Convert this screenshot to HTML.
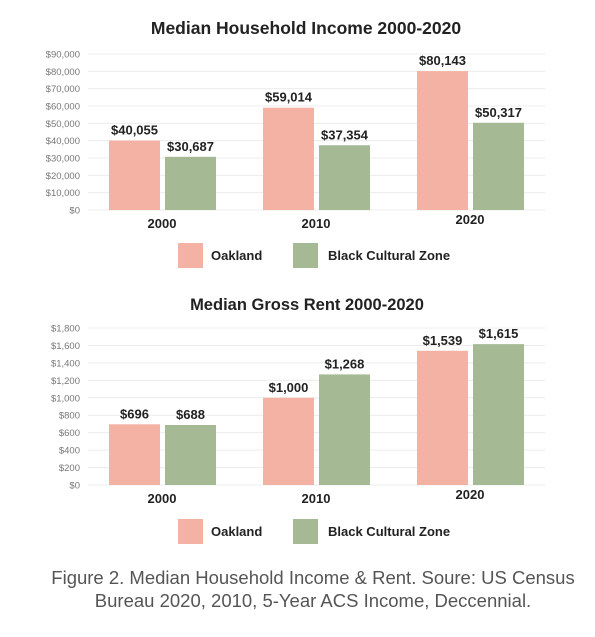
<!DOCTYPE html>
<html><head><meta charset="utf-8">
<style>
html,body{margin:0;padding:0;background:#fff;}
body{width:595px;height:632px;overflow:hidden;font-family:"Liberation Sans",sans-serif;}
svg text{font-family:"Liberation Sans",sans-serif;}
</style></head>
<body>
<svg id="chart" width="595" height="632"></svg>
<script>
const years = ["2000","2010","2020"];
const seriesNames = ["Oakland","Black Cultural Zone"];
const incomeOakland = [40055, 59014, 80143];
const incomeBCZ = [30687, 37354, 50317];
const incomeTicks = [0,10000,20000,30000,40000,50000,60000,70000,80000,90000];
const rentOakland = [696, 1000, 1539];
const rentBCZ = [688, 1268, 1615];
const rentTicks = [0,200,400,600,800,1000,1200,1400,1600,1800];

const NS="http://www.w3.org/2000/svg";
const svg=document.getElementById('chart');
const colors=["#f4b2a5","#a5b995"];
function mk(tag,attrs,parent){const e=document.createElementNS(NS,tag);for(const k in attrs)e.setAttribute(k,attrs[k]);(parent||svg).appendChild(e);return e;}
function fmt(v){return "$"+v.toLocaleString("en-US");}

function drawChart(cfg){
  const g=mk('g',{});
  
  
  const maxV=cfg.ticks[cfg.ticks.length-1];
  const y=v=>cfg.base-(v/maxV)*(cfg.base-cfg.top);
  const groupX=i=>cfg.x0+i*154;
  const t=mk('text',{x:cfg.titleX,y:cfg.titleY,'text-anchor':'middle','font-size':cfg.titleSize,'font-weight':'bold',fill:'#222'},g);
  t.textContent=cfg.title;
  
  
  cfg.ticks.forEach(tv=>{
    const l=mk('line',{x1:88,x2:545,y1:y(tv),y2:y(tv),stroke:'#ececec','stroke-width':1},g);
    
    
    const tx=mk('text',{x:80,y:y(tv)+3.5,'text-anchor':'end','font-size':9.5,fill:'#777'},g);
    tx.textContent=fmt(tv);
    
    
  });
  const series=[cfg.a,cfg.b];
  years.forEach((yr,i)=>{
    series.forEach((arr,s)=>{
      const bx=groupX(i)+s*56, v=arr[i];
      const r=mk('rect',{x:bx,y:y(v),width:51,height:cfg.base-y(v),fill:colors[s]},g);
      
      
      const lb=mk('text',{x:bx+25.5,y:y(v)-6,'text-anchor':'middle','font-size':13,'font-weight':'600',fill:'#222'},g);
      lb.textContent=fmt(v);
      
      
    });
    const xl=mk('text',{x:groupX(i)+53,y:cfg.base+(i===2?14:18),'text-anchor':'middle','font-size':13,'font-weight':'bold',fill:'#222'},g);
    xl.textContent=yr;
    
    
  });
  const ly=cfg.legendY;
  const s1=mk('rect',{x:178,y:ly-12,width:25,height:25,fill:colors[0]},g);
  
  
  const t1=mk('text',{x:211,y:ly+5,'font-size':13,'font-weight':'bold',fill:'#222'},g);
  t1.textContent=seriesNames[0];
  
  
  const s2=mk('rect',{x:293,y:ly-12,width:25,height:25,fill:colors[1]},g);
  
  
  const t2=mk('text',{x:328,y:ly+5,'font-size':13,'font-weight':'bold',fill:'#222'},g);
  t2.textContent=seriesNames[1];
  
  
}

drawChart({name:'income-chart',title:'Median Household Income 2000-2020',titleX:306,titleY:34,titleSize:17.5,top:54,base:210,x0:109,ticks:incomeTicks,a:incomeOakland,b:incomeBCZ,legendY:255});
drawChart({name:'rent-chart',title:'Median Gross Rent 2000-2020',titleX:307,titleY:310,titleSize:16.5,top:328,base:485,x0:109,ticks:rentTicks,a:rentOakland,b:rentBCZ,legendY:531});

const c1=mk('text',{x:313,y:584,'text-anchor':'middle','font-size':18.5,fill:'#555'});
c1.textContent='Figure 2. Median Household Income & Rent. Soure: US Census';


const c2=mk('text',{x:313,y:607,'text-anchor':'middle','font-size':18.5,fill:'#555'});
c2.textContent='Bureau 2020, 2010, 5-Year ACS Income, Deccennial.';


</script>
</body></html>
